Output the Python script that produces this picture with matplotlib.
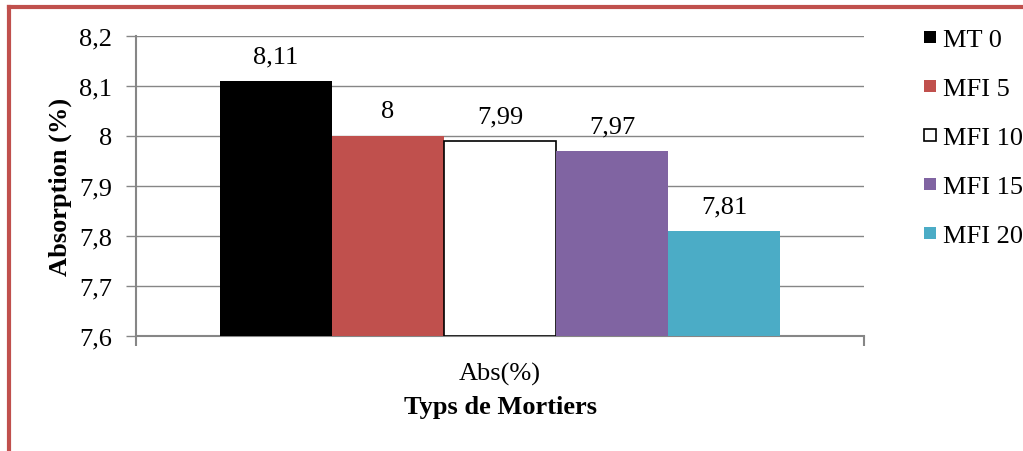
import matplotlib.pyplot as plt
from matplotlib.lines import Line2D

# Data
series = ['MT 0', 'MFI 5', 'MFI 10', 'MFI 15', 'MFI 20']
values = [8.11, 8.00, 7.99, 7.97, 7.81]
labels = ['8,11', '8', '7,99', '7,97', '7,81']
yticks = [7.6, 7.7, 7.8, 7.9, 8.0, 8.1, 8.2]
ytick_labels = ['7,6', '7,7', '7,8', '7,9', '8', '8,1', '8,2']
category = 'Abs(%)'

colors = ['#000000', '#C0504D', '#FFFFFF', '#8064A2', '#4BACC6']
edges = ['#000000', '#C0504D', '#000000', '#8064A2', '#4BACC6']

plt.rcParams['font.family'] = ['Liberation Serif', 'DejaVu Serif']
fs = 19

W, H = 1023, 452
fig = plt.figure(figsize=(W / 100, H / 100), dpi=100)
ax = fig.add_axes([136 / W, 1 - 337 / H, (864 - 136) / W, (337 - 37) / H])

bw = 112 / 728
n = len(series)
for i in range(n):
    x = (i - (n - 1) / 2) * bw
    ax.bar(x, values[i] - 7.6, bottom=7.6, width=bw, color=colors[i],
           edgecolor=edges[i], linewidth=1.2 if i == 2 else 0, zorder=3)
    ax.annotate(labels[i], (x, values[i]), xytext=(0, 10), textcoords='offset points',
                ha='center', va='bottom', fontsize=fs)

ax.set_ylim(7.6, 8.2)
ax.set_xlim(-0.5, 0.5)
ax.set_yticks(yticks)
ax.set_yticklabels(ytick_labels, fontsize=fs)
ax.yaxis.grid(True, color='#868686', linewidth=1)
ax.set_axisbelow(True)
ax.set_xticks([0])
ax.set_xticklabels([category], fontsize=fs)
ax.set_xticks([-0.5, 0.5], minor=True)
ax.tick_params(axis='x', which='major', length=0, pad=19)
ax.tick_params(axis='x', which='minor', length=7, color='#868686', width=1.5)
ax.tick_params(axis='y', length=7, color='#868686', width=1, pad=10)
for s in ['top', 'right']:
    ax.spines[s].set_visible(False)
for s in ['left', 'bottom']:
    ax.spines[s].set_color('#868686')
    ax.spines[s].set_linewidth(1.5)

ax.set_ylabel('Absorption (%)', fontsize=fs, fontweight='bold', labelpad=5)
ax.set_xlabel('Typs de Mortiers', fontsize=fs, fontweight='bold', labelpad=7)

handles = [Line2D([], [], marker='s', linestyle='none', markersize=8.6,
                  markerfacecolor=colors[i], markeredgecolor=edges[i],
                  markeredgewidth=1.2 if i == 2 else 0) for i in range(n)]
fig.legend(handles, series, loc='upper left', bbox_to_anchor=(906 / W, 1 - 18 / H),
           frameon=False, fontsize=fs, handletextpad=0.0, labelspacing=0.97,
           borderaxespad=0, handlelength=1.0)

# red frame (left and top edges)
fig.add_artist(Line2D([8.5 / W, 8.5 / W], [0, 1 - 8 / H], color='#C0504D', linewidth=3,
                      transform=fig.transFigure))
fig.add_artist(Line2D([8.5 / W, 1], [1 - 8 / H, 1 - 8 / H], color='#C0504D', linewidth=3,
                      transform=fig.transFigure))

fig.savefig('out.png', dpi=100)
